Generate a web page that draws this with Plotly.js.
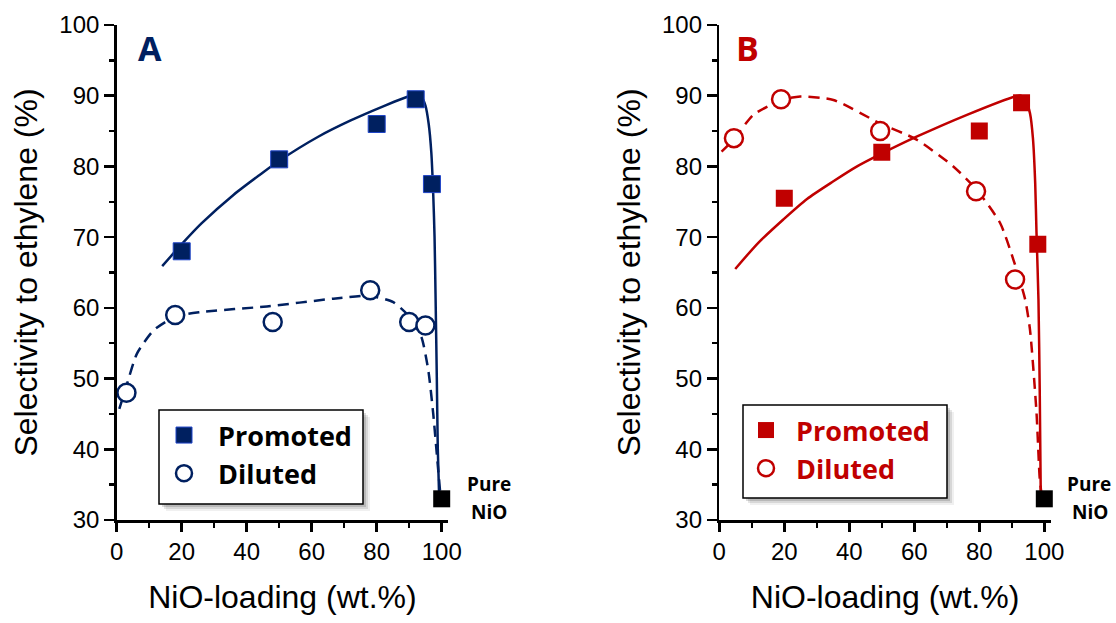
<!DOCTYPE html>
<html>
<head>
<meta charset="utf-8">
<script src="https://cdn.plot.ly/plotly-3.0.1.min.js"></script>
<style>html,body{margin:0;padding:0;background:#fff;}#chart{width:1116px;height:623px;}</style>
</head>
<body>
<div id="chart"></div>
<script>
// ---- Panel A data (navy) ----
const promotedA_x = [20, 50, 80, 92, 97];
const promotedA_y = [68, 81, 86, 89.5, 77.5];
const dilutedA_x = [3, 18, 48, 78, 90, 95];
const dilutedA_y = [48, 59, 58, 62.5, 58, 57.5];
const fitPromA_x = [14, 20, 26, 36, 44, 50, 62, 72, 82, 91, 92.5, 93.8, 95, 96, 96.8, 97.4, 97.8, 98.1, 98.5, 98.8, 99.2];
const fitPromA_y = [65.9, 69.0, 71.9, 76.0, 78.8, 80.8, 84.2, 86.5, 88.5, 90.1, 90.2, 89.8, 88.6, 86, 82, 76, 70, 62, 50, 40, 33.5];
const fitDilA_x = [0.8, 2.9, 6.2, 11.3, 18.2, 25.6, 46.2, 66.7, 77.7, 85.1, 90.2, 93.8, 95.9, 97.4, 98.5, 99.5];
const fitDilA_y = [45.7, 48.8, 53.5, 56.8, 58.8, 59.4, 60.2, 61.3, 61.7, 60.8, 58.7, 55.8, 51.1, 45, 39.3, 34.1];

// ---- Panel B data (red) ----
const promotedB_x = [20, 50, 80, 93, 98];
const promotedB_y = [75.5, 82, 85, 89, 69];
const dilutedB_x = [4.5, 19, 49.5, 79, 91];
const dilutedB_y = [84, 89.5, 85, 76.5, 64];
const fitPromB_x = [4.9, 12, 19.7, 27, 35.1, 42, 49.9, 60.7, 76.2, 91, 92.8, 94.3, 95.6, 96.5, 97.2, 97.6, 98.2, 98.6, 98.9];
const fitPromB_y = [65.5, 69.2, 72.5, 75.4, 77.9, 79.9, 81.8, 84.2, 87.3, 89.9, 90, 89.3, 87.5, 84, 77.6, 70.6, 61.2, 48, 33.9];
const fitDilB_x = [0.7, 4.4, 10.5, 19.2, 24.9, 35.1, 49.4, 60.7, 72, 79.2, 86.4, 90.5, 94.1, 95.6, 97.6, 98.6, 99.2];
const fitDilB_y = [82.1, 83.8, 87.3, 89.4, 89.9, 89.4, 86.1, 83.8, 80, 76.7, 72, 66.8, 61.2, 56.9, 45.2, 35.8, 33.5];

// ---- Pure NiO reference ----
const pureNiO_x = [100];
const pureNiO_y = [33];

const xTickVals = [0, 20, 40, 60, 80, 100];
const xTickText = ['0', '20', '40', '60', '80', '100'];
const yTickVals = [30, 40, 50, 60, 70, 80, 90, 100];
const yTickText = ['30', '40', '50', '60', '70', '80', '90', '100'];

const NAVY = '#002060';
const RED = '#c00000';
const tickFont = {family: 'Liberation Sans, Arial, sans-serif', size: 24, color: '#000'};
const titleFont = {family: 'Liberation Sans, Arial, sans-serif', size: 32, color: '#000'};
const legFont = {family: 'Open Sans, sans-serif', size: 27, weight: 'bold'};
const W = 1116, H = 623;

const traces = [
  {x: fitPromA_x, y: fitPromA_y, xaxis: 'x', yaxis: 'y', mode: 'lines', line: {color: NAVY, width: 2.5, shape: 'spline', smoothing: 0.7}, showlegend: false, hoverinfo: 'skip'},
  {x: fitDilA_x, y: fitDilA_y, xaxis: 'x', yaxis: 'y', mode: 'lines', line: {color: NAVY, width: 2.5, dash: '11px,7px', shape: 'spline', smoothing: 0.6}, showlegend: false, hoverinfo: 'skip'},
  {x: promotedA_x, y: promotedA_y, xaxis: 'x', yaxis: 'y', mode: 'markers', name: 'Promoted', legend: 'legend', legendgroup: 'pa',
   marker: {symbol: 'square', size: 17, color: NAVY, line: {color: '#1f44c8', width: 1}}},
  {x: dilutedA_x, y: dilutedA_y, xaxis: 'x', yaxis: 'y', mode: 'markers', name: 'Diluted', legend: 'legend', legendgroup: 'da',
   marker: {symbol: 'circle', size: 18, color: '#fff', line: {color: NAVY, width: 2.5}}},
  {x: pureNiO_x, y: pureNiO_y, xaxis: 'x', yaxis: 'y', mode: 'markers', name: 'Pure NiO', showlegend: false, cliponaxis: false,
   marker: {symbol: 'square', size: 17, color: '#000'}},

  {x: fitPromB_x, y: fitPromB_y, xaxis: 'x2', yaxis: 'y2', mode: 'lines', line: {color: RED, width: 2.5, shape: 'spline', smoothing: 0.7}, showlegend: false, hoverinfo: 'skip'},
  {x: fitDilB_x, y: fitDilB_y, xaxis: 'x2', yaxis: 'y2', mode: 'lines', line: {color: RED, width: 2.5, dash: '11px,7px', shape: 'spline', smoothing: 0.6}, showlegend: false, hoverinfo: 'skip'},
  {x: promotedB_x, y: promotedB_y, xaxis: 'x2', yaxis: 'y2', mode: 'markers', name: 'Promoted', legend: 'legend2', legendgroup: 'pb',
   marker: {symbol: 'square', size: 17, color: RED}},
  {x: dilutedB_x, y: dilutedB_y, xaxis: 'x2', yaxis: 'y2', mode: 'markers', name: 'Diluted', legend: 'legend2', legendgroup: 'db',
   marker: {symbol: 'circle', size: 18, color: '#fff', line: {color: RED, width: 2.5}}},
  {x: pureNiO_x, y: pureNiO_y, xaxis: 'x2', yaxis: 'y2', mode: 'markers', name: 'Pure NiO', showlegend: false, cliponaxis: false,
   marker: {symbol: 'square', size: 17, color: '#000'}}
];

function xAxis(domain, anchor) {
  return {
    domain: domain, anchor: anchor, range: [0, 102], fixedrange: true,
    showline: true, linecolor: '#000', linewidth: 2.5, showgrid: false, zeroline: false,
    ticks: 'outside', ticklen: 9, tickwidth: 2.5, tickcolor: '#000',
    tickvals: xTickVals, ticktext: xTickText, tickfont: tickFont,
    minor: {ticks: 'outside', ticklen: 5, tickwidth: 2.5, tickcolor: '#000', dtick: 10, tick0: 0, showgrid: false},
    title: {text: 'NiO-loading (wt.%)', font: titleFont, standoff: 22}
  };
}
function yAxis(anchor) {
  return {
    domain: [0.1653, 0.9599], anchor: anchor, range: [30, 100], fixedrange: true,
    showline: true, linecolor: '#000', linewidth: 2.5, showgrid: false, zeroline: false,
    ticks: 'outside', ticklen: 10, tickwidth: 2.5, tickcolor: '#000',
    tickvals: yTickVals, ticktext: yTickText, tickfont: tickFont,
    minor: {ticks: 'outside', ticklen: 5, tickwidth: 2.5, tickcolor: '#000', dtick: 5, tick0: 0, showgrid: false},
    title: {text: 'Selectivity to ethylene (%)', font: titleFont, standoff: 12}
  };
}

// legend frame rectangles in pixels: [left, top, right, bottom]
function frame(l, t, r, b) {
  const px = v => v / W, py = v => 1 - v / H;
  return [
    {type: 'rect', xref: 'paper', yref: 'paper', x0: px(l + 7), x1: px(r + 7), y0: py(b + 7), y1: py(t + 7),
     fillcolor: 'rgba(0,0,0,0.06)', line: {width: 0}, layer: 'above'},
    {type: 'rect', xref: 'paper', yref: 'paper', x0: px(l + 5), x1: px(r + 5), y0: py(b + 5), y1: py(t + 5),
     fillcolor: 'rgba(0,0,0,0.10)', line: {width: 0}, layer: 'above'},
    {type: 'rect', xref: 'paper', yref: 'paper', x0: px(l + 3), x1: px(r + 3), y0: py(b + 3), y1: py(t + 3),
     fillcolor: 'rgba(0,0,0,0.14)', line: {width: 0}, layer: 'above'},
    {type: 'rect', xref: 'paper', yref: 'paper', x0: px(l), x1: px(r), y0: py(b), y1: py(t),
     fillcolor: '#fff', line: {color: '#000', width: 1.5}, layer: 'above'}
  ];
}

const layout = {
  width: W, height: H,
  margin: {l: 0, r: 0, t: 0, b: 0},
  paper_bgcolor: '#fff', plot_bgcolor: 'rgba(0,0,0,0)',
  font: {family: 'Liberation Sans, Arial, sans-serif', color: '#000'},
  xaxis: xAxis([0.10457, 0.40161], 'y'),
  yaxis: yAxis('x'),
  xaxis2: xAxis([0.64453, 0.94158], 'y2'),
  yaxis2: yAxis('x2'),
  legend: {x: 150 / W, y: 1 - 411 / H, xanchor: 'left', yanchor: 'top',
    bgcolor: 'rgba(0,0,0,0)', borderwidth: 0,
    font: Object.assign({}, legFont, {color: '#000'}), traceorder: 'grouped', tracegroupgap: 0, itemwidth: 58},
  legend2: {x: 736 / W, y: 1 - 406 / H, xanchor: 'left', yanchor: 'top',
    bgcolor: 'rgba(0,0,0,0)', borderwidth: 0,
    font: Object.assign({}, legFont, {color: RED}), traceorder: 'grouped', tracegroupgap: 0, itemwidth: 50},
  shapes: [].concat(frame(159, 410, 363, 504), frame(743, 405, 947, 498)),
  annotations: [
    {text: 'A', xref: 'paper', yref: 'paper', x: 150 / W, y: 1 - 47.5 / H, xanchor: 'center', yanchor: 'middle', showarrow: false,
     font: {family: 'Open Sans, sans-serif', size: 34, weight: 'bold', color: NAVY}},
    {text: 'B', xref: 'paper', yref: 'paper', x: 747.5 / W, y: 1 - 47.5 / H, xanchor: 'center', yanchor: 'middle', showarrow: false,
     font: {family: 'Open Sans, sans-serif', size: 34, weight: 'bold', color: RED}},
    {text: 'Pure', xref: 'paper', yref: 'paper', x: 489 / W, y: 1 - 484 / H, xanchor: 'center', yanchor: 'middle', showarrow: false,
     font: {family: 'Open Sans, sans-serif', size: 19, weight: 'bold', color: '#000'}},
    {text: 'NiO', xref: 'paper', yref: 'paper', x: 489 / W, y: 1 - 512 / H, xanchor: 'center', yanchor: 'middle', showarrow: false,
     font: {family: 'Open Sans, sans-serif', size: 19, weight: 'bold', color: '#000'}},
    {text: 'Pure', xref: 'paper', yref: 'paper', x: 1089 / W, y: 1 - 484 / H, xanchor: 'center', yanchor: 'middle', showarrow: false,
     font: {family: 'Open Sans, sans-serif', size: 19, weight: 'bold', color: '#000'}},
    {text: 'NiO', xref: 'paper', yref: 'paper', x: 1090 / W, y: 1 - 512 / H, xanchor: 'center', yanchor: 'middle', showarrow: false,
     font: {family: 'Open Sans, sans-serif', size: 19, weight: 'bold', color: '#000'}}
  ]
};

Plotly.newPlot('chart', traces, layout, {displayModeBar: false, staticPlot: true});
</script>
</body>
</html>
